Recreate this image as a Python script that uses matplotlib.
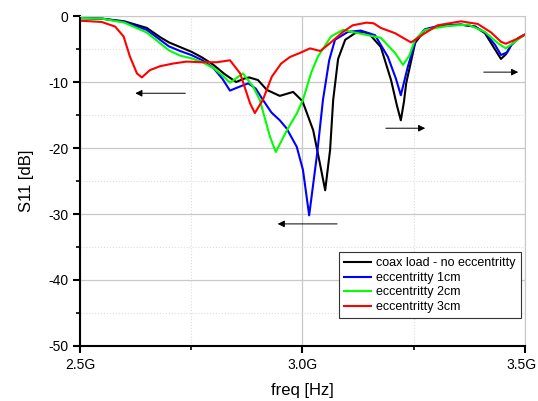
import matplotlib
matplotlib.use('Agg')
import matplotlib.pyplot as plt

plt.rcParams['font.family'] = ['Liberation Sans', 'DejaVu Sans']
plt.rcParams['axes.unicode_minus'] = False

# frekwencja w GHz, S11 w dB
f_black = [2.50, 2.55, 2.60, 2.65, 2.68, 2.70, 2.725, 2.75, 2.775, 2.80, 2.825, 2.851, 2.868,
           2.880, 2.900, 2.920, 2.949, 2.979, 3.000, 3.024, 3.039, 3.051, 3.062, 3.069, 3.080,
           3.096, 3.118, 3.135, 3.150, 3.176, 3.199, 3.212, 3.221, 3.228, 3.233, 3.253, 3.275,
           3.311, 3.356, 3.388, 3.410, 3.433, 3.446, 3.457, 3.469, 3.484, 3.500]
s_black = [-0.3, -0.4, -0.8, -1.8, -3.2, -4.0, -4.7, -5.4, -6.3, -7.4, -8.8, -10.0, -9.5,
           -9.3, -9.7, -11.2, -12.1, -11.5, -12.9, -17.3, -22.3, -26.4, -20.3, -12.7, -6.5,
           -3.6, -2.6, -2.4, -2.7, -4.7, -9.7, -13.5, -15.8, -13.0, -10.2, -4.1, -2.1,
           -1.5, -1.3, -1.6, -2.6, -5.1, -6.5, -5.8, -4.4, -3.4, -2.8]

f_blue = [2.50, 2.55, 2.60, 2.65, 2.70, 2.725, 2.75, 2.775, 2.80, 2.82, 2.837, 2.855, 2.878,
          2.895, 2.911, 2.930, 2.949, 2.964, 2.987, 3.001, 3.015, 3.033, 3.046, 3.060, 3.073,
          3.102, 3.131, 3.163, 3.192, 3.210, 3.221, 3.237, 3.255, 3.275, 3.311, 3.356, 3.388,
          3.410, 3.433, 3.446, 3.460, 3.469, 3.484, 3.500]
s_blue = [-0.3, -0.4, -0.9, -2.1, -4.6, -5.3, -5.9, -6.7, -7.9, -9.5, -11.3, -10.8, -10.2,
          -11.0, -12.7, -14.6, -15.8, -17.0, -19.8, -23.3, -30.2, -20.8, -12.7, -6.7, -3.6,
          -2.4, -2.2, -2.9, -6.2, -9.5, -12.0, -7.6, -3.6, -2.0, -1.4, -1.3, -1.6,
          -2.5, -4.4, -5.9, -5.5, -4.4, -3.4, -2.8]

f_green = [2.50, 2.55, 2.60, 2.65, 2.70, 2.725, 2.75, 2.775, 2.80, 2.82, 2.837, 2.866, 2.889,
           2.904, 2.927, 2.940, 2.965, 2.987, 3.001, 3.020, 3.035, 3.064, 3.091, 3.118, 3.147,
           3.176, 3.208, 3.226, 3.240, 3.253, 3.275, 3.327, 3.372, 3.410, 3.439, 3.457, 3.475,
           3.500]
s_green = [-0.3, -0.4, -1.0, -2.5, -5.2, -6.0, -6.4, -7.0, -7.9, -9.0, -10.1, -8.7, -10.7,
           -12.7, -18.3, -20.6, -17.3, -14.8, -12.7, -8.5, -6.1, -3.1, -2.1, -2.5, -2.9,
           -3.3, -5.6, -7.4, -6.0, -3.6, -2.1, -1.5, -1.3, -2.4, -4.1, -4.9, -4.0,
           -2.8]

f_red = [2.50, 2.549, 2.579, 2.598, 2.612, 2.628, 2.639, 2.657, 2.680, 2.709, 2.740, 2.770,
         2.808, 2.837, 2.860, 2.882, 2.893, 2.911, 2.931, 2.952, 2.972, 2.994, 3.017, 3.040,
         3.062, 3.091, 3.113, 3.144, 3.160, 3.176, 3.208, 3.244, 3.275, 3.304, 3.356, 3.394,
         3.424, 3.446, 3.457, 3.484, 3.500]
s_red = [-0.7, -0.9, -1.6, -3.1, -6.1, -8.7, -9.3, -8.2, -7.6, -7.2, -6.9, -7.0,
         -7.0, -6.7, -8.7, -13.2, -14.7, -12.7, -9.2, -7.2, -6.2, -5.6, -4.9, -5.3,
         -4.1, -2.4, -1.4, -1.0, -1.1, -1.8, -2.6, -4.0, -2.6, -1.4, -0.8, -1.2,
         -2.5, -3.9, -4.2, -3.4, -2.8]

labels = ['coax load - no eccentritty', 'eccentritty 1cm', 'eccentritty 2cm', 'eccentritty 3cm']
colors = ['black', '#0000ff', '#00ff00', '#ff0000']

x_ticks = [2.5, 3.0, 3.5]
x_ticklabels = ['2.5G', '3.0G', '3.5G']

# strzalki: (start, koniec) w (GHz, dB)
arrows = [((2.743, -11.7), (2.618, -11.7)),
          ((3.084, -31.5), (2.938, -31.5)),
          ((3.181, -17.0), (3.282, -17.0)),
          ((3.401, -8.5), (3.491, -8.5))]

fig = plt.figure(figsize=(5.38, 4.01), dpi=100)
ax = fig.add_axes([0.1487, 0.1372, 0.8271, 0.8228])

for f, s, c, lab in zip([f_black, f_blue, f_green, f_red], [s_black, s_blue, s_green, s_red], colors, labels):
    ax.plot(f, s, color=c, lw=1.5, label=lab)

for (x0, y0), (x1, y1) in arrows:
    ax.annotate('', xy=(x1, y1), xytext=(x0, y0),
                arrowprops=dict(arrowstyle='-|>', color='black', lw=0.7, mutation_scale=10))

ax.set_xlim(2.5, 3.5)
ax.set_ylim(-50, 0)
ax.set_xticks(x_ticks)
# ostatnia etykieta osobno, troche w lewo, zeby sie miescila w obrazku
ax.set_xticklabels(x_ticklabels[:-1] + [''])
ax.annotate(x_ticklabels[-1], xy=(x_ticks[-1], 0), xycoords=('data', 'axes fraction'),
            xytext=(-2.5, -8.5), textcoords='offset points', ha='center', va='top', fontsize=10)
ax.set_xticks([2.75, 3.25], minor=True)
ax.set_yticks([0, -10, -20, -30, -40, -50])
ax.set_yticks([-5, -15, -25, -35, -45], minor=True)

ax.grid(which='major', color='#c8c8c8', lw=0.9, ls='-')
ax.grid(which='minor', color='#dcdcdc', lw=0.8, ls=':')
ax.set_axisbelow(True)

for sp in ['top', 'right']:
    ax.spines[sp].set_color('#c8c8c8')
for sp in ['left', 'bottom']:
    ax.spines[sp].set_linewidth(1.5)

ax.tick_params(which='major', direction='out', length=5, width=1.5, labelsize=10)
ax.tick_params(which='minor', direction='out', length=3, width=1.2)
ax.tick_params(top=False, right=False)

ax.set_xlabel('freq [Hz]', fontsize=12, labelpad=8)
ax.set_ylabel('S11 [dB]', fontsize=12, labelpad=10)

leg = ax.legend(loc='lower right', bbox_to_anchor=(0.991, 0.085), borderaxespad=0, fontsize=9,
                fancybox=False, framealpha=1, edgecolor='#333333',
                handlelength=2.2, handletextpad=0.4, labelspacing=0.2, borderpad=0.4)
leg.get_frame().set_linewidth(0.8)

fig.savefig('out.png', dpi=100)
